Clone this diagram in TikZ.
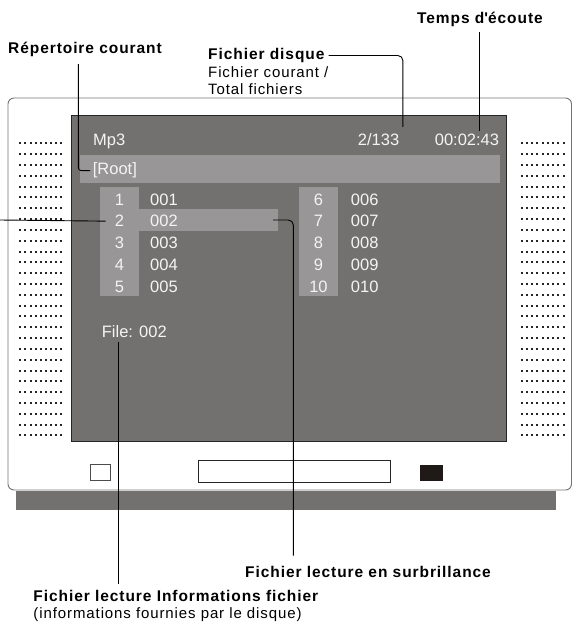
\documentclass[tikz,border=0pt]{standalone}
\usepackage{fontspec}
\setmainfont{Liberation Sans}
\newfontfamily\lblfont{Liberation Sans}[LetterSpace=6]
\usetikzlibrary{calc, positioning}
\definecolor{scrGray}{HTML}{737170}
\definecolor{barGray}{HTML}{989696}
\definecolor{scrWhite}{HTML}{F4F4F4}
\definecolor{dotGray}{HTML}{262626}
\definecolor{keyBlack}{HTML}{1F1A17}
\tikzset{
  scrtext/.style={font=\fontsize{16.5}{18}\selectfont, text=scrWhite, inner sep=0pt},
  lblB/.style={font=\lblfont\bfseries\fontsize{15.5}{17}\selectfont, inner sep=0pt, anchor=base west},
  lblR/.style={font=\lblfont\fontsize{15}{17}\selectfont, inner sep=0pt, anchor=base west},
  leader/.style={draw=black, line width=0.9pt},
  bodyline/.style={draw=black!55, line width=0.9pt},
  hlbar/.style={rectangle, fill=barGray, inner sep=0pt, minimum width=139pt, minimum height=22pt},
  dot/.style={fill=dotGray},
}
\begin{document}
\begin{tikzpicture}[x=1pt, y=-1pt]
  \useasboundingbox (0,0) rectangle (573,625);
  % body and stand
  \draw[bodyline, rounded corners=6pt] (8,98) rectangle (571.5,490);
  \fill[scrGray] (16,491) rectangle (555.5,510);
  % speaker grilles
  \foreach \r in {0,...,27}
    \foreach \c in {0,...,8} {
      \fill[dot] (19.3+\c*5.1, 142.3+\r*10.82) rectangle ++(2,2);
      \fill[dot] (520.7+\c*5.24, 142.3+\r*10.82) rectangle ++(2,2);
    }
  % front buttons
  \draw[black!70, line width=0.8pt] (90.7,464.3) rectangle (110,480.7);
  \draw[black!85, line width=0.8pt] (198.3,460.3) rectangle (390.7,482.3);
  \fill[keyBlack] (420,465) rectangle (442.7,480.7);
  % screen
  \filldraw[fill=scrGray, draw=black!85, line width=0.8pt] (71.7,115.7) rectangle (506.7,441);
  \fill[barGray] (80,155) rectangle (500,182.7);
  \fill[barGray] (100,187.3) rectangle (139,296);
  \fill[barGray] (299,187.3) rectangle (338,296);
  \node[hlbar] (hl) at (208.5,220) {};
  \node[scrtext, anchor=base west] (mode) at (93,145) {Mp3};
  \node[scrtext, anchor=base west] (cnt) at (357.7,145) {2/133};
  \node[scrtext, anchor=base east] (tim) at (499.3,145) {00:02:43};
  \node[scrtext, anchor=base west] (root) at (92.7,174.9) {[Root]};
  \foreach \i/\f/\j/\g [evaluate=\i as \yy using 205.2+(\i-1)*21.7] in
      {1/001/6/006, 2/002/7/007, 3/003/8/008, 4/004/9/009, 5/005/10/010} {
    \node[scrtext, anchor=base] (n\i) at (119.5,\yy) {\i};
    \node[scrtext, anchor=base west] (f\i) at (150,\yy) {\f};
    \node[scrtext, anchor=base] (n\j) at (318.5,\yy) {\j};
    \node[scrtext, anchor=base west] (f\j) at (350.7,\yy) {\g};
  }
  \node[scrtext, anchor=base west] (file) at (101.7,337.6) {File: 002};
  % labels
  \node[lblB] (lblTime) at (417,23) {Temps d\textquotesingle écoute};
  \node[lblB] (lblRep) at (8,53) {Répertoire courant};
  \node[lblB] (lblDisk) at (208,59.5) {Fichier disque};
  \node[lblR] (lblDisk2) at ([yshift=-17.5pt]lblDisk.base west) {Fichier courant /};
  \node[lblR] (lblDisk3) at ([yshift=-17pt]lblDisk2.base west) {Total fichiers};
  \node[lblB] (lblHl) at (245,577) {Fichier lecture en surbrillance};
  \node[lblB] (lblInfo) at (33.3,601.5) {Fichier lecture Informations fichier};
  \node[lblR] (lblInfo2) at ([yshift=-16.5pt]lblInfo.base west) {(informations fournies par le disque)};
  % leaders
  \coordinate (edgeL) at (0,220);
  \draw[leader] ($(lblTime.south west)+(62.3,6)$) -- ($(tim.north east)+(-20,-2.3)$);
  \draw[leader, rounded corners=3pt] ($(lblRep.south west)+(70.3,7.6)$) |- ([xshift=-2.7pt]root.west);
  \draw[leader, rounded corners=5pt] ([xshift=4pt]lblDisk.east) -| ($(cnt.north east)+(3.5,-6)$);
  \draw[leader] (edgeL) -- ([xshift=-9pt]n2.west);
  \draw[leader, rounded corners=5pt] ([xshift=-5pt]hl.east) -| ($(lblHl.north west)+(48.3,-10)$);
  \draw[leader] ($(file.south west)+(17,4)$) -- ($(lblInfo.north west)+(85.4,-5.8)$);
\end{tikzpicture}
\end{document}
